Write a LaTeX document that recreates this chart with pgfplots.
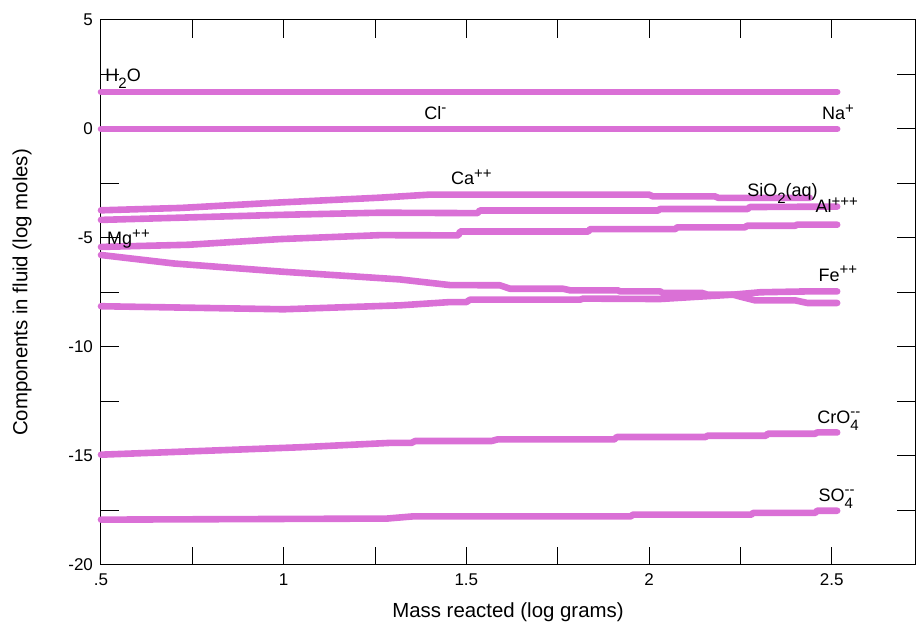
\documentclass[border=0pt]{standalone}
\usepackage{fontspec}
\setmainfont{Liberation Sans}
\usepackage{pgfplots}
\pgfplotsset{compat=1.18}

\definecolor{curve}{RGB}{218,112,214}

% charge and count indices for the species names
\newcommand{\up}[1]{\raisebox{3.3pt}{\fontsize{7.5}{8}\selectfont #1}}
\newcommand{\dn}[1]{\raisebox{-3.6pt}{\fontsize{7.5}{8}\selectfont #1}}
\newcommand{\updn}[2]{\rlap{\up{#1}}\dn{#2}}
\newcommand{\lbl}[3]{\node[anchor=base west,inner sep=0pt,font=\fontsize{9}{10}\selectfont] at (axis cs:#1,#2) {#3};}

\begin{document}
\begin{tikzpicture}
\begin{axis}[
  scale only axis,
  width=407pt, height=272.5pt,
  xmin=0.5, xmax=2.728,
  ymin=-20, ymax=5,
  axis line style={line width=0.5pt},
  tick align=inside,
  major tick length=9pt, minor tick length=9pt,
  tick style={line width=0.5pt, black},
  xtick={0.5,1,1.5,2,2.5},
  xticklabels={.5,1,1.5,2,2.5},
  minor xtick={0.75,1.25,1.75,2.25},
  ytick={-20,-15,-10,-5,0,5},
  yticklabels={-20,-15,-10,-5,0,5},
  minor ytick={-17.5,-12.5,-7.5,-2.5,2.5},
  tick label style={font=\fontsize{8.5}{10}\selectfont},
  xticklabel style={yshift=-1pt},
  yticklabel style={xshift=-0.5pt},
  xlabel={Mass reacted (log grams)},
  ylabel={Components in fluid (log moles)},
  label style={font=\fontsize{10.2}{12}\selectfont},
  xlabel style={at={(axis description cs:0.5,-0.0862)}, anchor=center},
  ylabel style={at={(axis description cs:-0.097,0.5)}, anchor=center},
  comp/.style={curve, line width=3.3pt, line cap=round, line join=round, mark=none},
  clip=false,
]
% H2O
\addplot[comp] coordinates {(0.5,1.70) (2.515,1.70)};
% Cl- / Na+
\addplot[comp] coordinates {(0.5,0) (2.515,0)};
% Ca++
\addplot[comp] coordinates {(0.5,-3.73) (0.72,-3.62) (0.99,-3.37) (1.264,-3.15) (1.40,-3.01) (2.0,-3.01) (2.01,-3.09) (2.18,-3.09) (2.19,-3.16) (2.44,-3.16)};
% Al+++
\addplot[comp] coordinates {(0.5,-4.17) (0.99,-3.94) (1.264,-3.84) (1.53,-3.86) (1.537,-3.74) (2.025,-3.74) (2.03,-3.67) (2.27,-3.67) (2.276,-3.58) (2.515,-3.56)};
% SiO2(aq)
\addplot[comp] coordinates {(0.5,-5.41) (0.74,-5.31) (0.99,-5.05) (1.264,-4.87) (1.478,-4.88) (1.483,-4.70) (1.834,-4.70) (1.839,-4.59) (2.072,-4.59) (2.077,-4.51) (2.263,-4.51) (2.268,-4.44) (2.40,-4.44) (2.405,-4.39) (2.515,-4.39)};
% Mg++
\addplot[comp] coordinates {(0.5,-5.78) (0.70,-6.17) (1.0,-6.55) (1.318,-6.90) (1.455,-7.16) (1.592,-7.17) (1.62,-7.33) (1.765,-7.33) (1.784,-7.40) (1.915,-7.40) (1.921,-7.45) (2.03,-7.45) (2.038,-7.52) (2.145,-7.52) (2.16,-7.60) (2.23,-7.60) (2.25,-7.69) (2.29,-7.86) (2.40,-7.86) (2.433,-7.98) (2.515,-7.98)};
% Fe++
\addplot[comp] coordinates {(0.5,-8.13) (1.0,-8.27) (1.318,-8.09) (1.455,-7.94) (1.50,-7.94) (1.51,-7.83) (1.811,-7.83) (1.82,-7.78) (2.03,-7.80) (2.148,-7.68) (2.23,-7.60) (2.304,-7.49) (2.433,-7.45) (2.515,-7.45)};
% CrO4--
\addplot[comp] coordinates {(0.5,-14.94) (1.045,-14.60) (1.29,-14.40) (1.35,-14.40) (1.36,-14.31) (1.57,-14.31) (1.585,-14.24) (1.905,-14.24) (1.912,-14.13) (2.155,-14.13) (2.16,-14.07) (2.32,-14.07) (2.325,-13.98) (2.455,-13.98) (2.46,-13.92) (2.515,-13.92)};
% SO4--
\addplot[comp] coordinates {(0.5,-17.92) (1.283,-17.87) (1.354,-17.77) (1.95,-17.77) (1.956,-17.69) (2.28,-17.69) (2.285,-17.61) (2.455,-17.61) (2.46,-17.51) (2.515,-17.51)};

\lbl{0.511}{2.17}{H\dn{2}O}
\lbl{1.384}{0.45}{Cl\up{-}}
\lbl{2.473}{0.43}{Na\up{+}}
\lbl{1.457}{-2.56}{Ca\up{++}}
\lbl{2.268}{-3.09}{SiO\dn{2}(aq)}
\lbl{2.455}{-3.85}{Al\up{+++}}
\lbl{0.516}{-5.31}{Mg\up{++}}
\lbl{2.463}{-6.99}{Fe\up{++}}
\lbl{2.46}{-13.49}{CrO\updn{-{}-}{4}}
\lbl{2.463}{-17.08}{SO\updn{-{}-}{4}}
\end{axis}
\useasboundingbox ([shift={(-50.5pt,-31pt)}]current axis.south west) rectangle ([shift={(1pt,10pt)}]current axis.north east);
\end{tikzpicture}
\end{document}
